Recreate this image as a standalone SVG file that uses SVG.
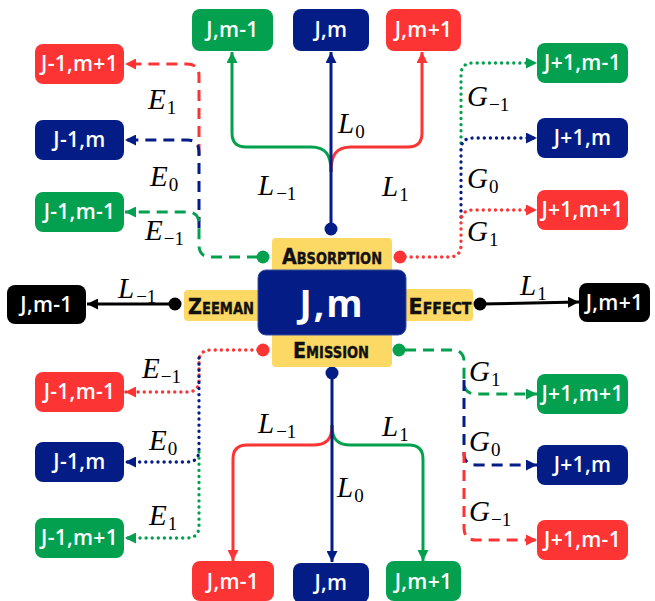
<svg xmlns="http://www.w3.org/2000/svg" width="655" height="601" viewBox="0 0 655 601">
<style>
.n{font-family:"Open Sans","Noto Sans",sans-serif;font-weight:600;font-size:21px;fill:#fff;text-anchor:middle;letter-spacing:0.3px}
.g{fill:#03a14f}.b{fill:#041c85}.r{fill:#fd3434}.k{fill:#000}.y{fill:#fcd864}
.lab{font-family:"DejaVu Sans","Liberation Sans",sans-serif;font-weight:bold;font-size:22px;font-variant:small-caps;fill:#111;stroke:#111;stroke-width:0.4px;text-anchor:middle}
.m{font-family:"Liberation Serif","DejaVu Serif",serif;font-style:italic;font-size:29px;fill:#000}
.s{font-family:"Liberation Serif","DejaVu Serif",serif;font-style:normal;font-size:19px}
.ln{fill:none;stroke-width:3}
.dash{stroke-dasharray:11 7}
.dot{stroke-dasharray:0.1 6;stroke-linecap:round;stroke-width:3.3}
.sg{stroke:#03a14f}.sb{stroke:#041c85}.sr{stroke:#fd3434}.sk{stroke:#000}
</style>
<defs>
<marker id="ag" viewBox="0 0 10 10" refX="10" refY="5" markerWidth="11" markerHeight="11" markerUnits="userSpaceOnUse" orient="auto"><path d="M0,0 L10,5 L0,10 z" fill="#03a14f"/></marker>
<marker id="ab" viewBox="0 0 10 10" refX="10" refY="5" markerWidth="11" markerHeight="11" markerUnits="userSpaceOnUse" orient="auto"><path d="M0,0 L10,5 L0,10 z" fill="#041c85"/></marker>
<marker id="ar" viewBox="0 0 10 10" refX="10" refY="5" markerWidth="11" markerHeight="11" markerUnits="userSpaceOnUse" orient="auto"><path d="M0,0 L10,5 L0,10 z" fill="#fd3434"/></marker>
<marker id="ak" viewBox="0 0 10 10" refX="10" refY="5" markerWidth="11" markerHeight="11" markerUnits="userSpaceOnUse" orient="auto"><path d="M0,0 L10,5 L0,10 z" fill="#000"/></marker>
</defs>

<g id="connectors">
  <path class="ln sg" d="M331,172 C331,155 326,147 311,147 H246 Q232,147 232,133 V52" marker-end="url(#ag)"/>
  <path class="ln sr" d="M331,172 C331,155 336,147 351,147 H408 Q422,147 422,133 V52" marker-end="url(#ar)"/>
  <path class="ln sb" d="M331,229 V52" marker-end="url(#ab)"/>
  <path class="ln sr" d="M332,425 C332,439 327,445 313,445 H247 Q233,445 233,459 V561" marker-end="url(#ar)"/>
  <path class="ln sg" d="M332,425 C332,439 337,445 351,445 H409 Q423,445 423,459 V561" marker-end="url(#ag)"/>
  <path class="ln sb" d="M332,373 V562" marker-end="url(#ab)"/>
  <path class="ln sk" d="M175,304 H87" marker-end="url(#ak)"/>
  <path class="ln sk" d="M480,304 L579,302" marker-end="url(#ak)"/>
  <path class="ln dash sr" d="M199,155 V76 Q199,64 187,64 H125" marker-end="url(#ar)"/>
  <path class="ln dash sb" d="M199,228 V152 Q199,140 187,140 H125" marker-end="url(#ab)"/>
  <path class="ln dash sg" d="M258,257 H211 Q199,257 199,245 V224 Q199,212 187,212 H125" marker-end="url(#ag)"/>
  <path class="ln dot sg" d="M461,143 V75 Q461,63 473,63 H537" marker-end="url(#ag)"/>
  <path class="ln dot sb" d="M461,217 V150 Q461,138 473,138 H537" marker-end="url(#ab)"/>
  <path class="ln dot sr" d="M405,257 H449 Q461,257 461,245 V222 Q461,210 473,210 H537" marker-end="url(#ar)"/>
  <path class="ln dot sr" d="M258,350 H211 Q199,350 199,362 V380 Q199,392 187,392 H125" marker-end="url(#ar)"/>
  <path class="ln dot sb" d="M199,358 V450 Q199,462 187,462 H125" marker-end="url(#ab)"/>
  <path class="ln dot sg" d="M199,452 V526 Q199,538 187,538 H125" marker-end="url(#ag)"/>
  <path class="ln dash sg" d="M405,350 H452 Q464,350 464,362 V382 Q464,394 476,394 H537" marker-end="url(#ag)"/>
  <path class="ln dash sb" d="M464,380 V453 Q464,465 476,465 H537" marker-end="url(#ab)"/>
  <path class="ln dash sr" d="M464,452 V528 Q464,540 476,540 H537" marker-end="url(#ar)"/>
  <circle cx="331" cy="229" r="6.5" class="b"/>
  <circle cx="263" cy="257" r="6.5" class="g"/>
  <circle cx="400" cy="257" r="6.5" class="r"/>
  <circle cx="263" cy="350" r="6.5" class="r"/>
  <circle cx="399" cy="350" r="6.5" class="g"/>
  <circle cx="332" cy="373" r="6.5" class="b"/>
  <circle cx="175" cy="304" r="6.5" class="k"/>
  <circle cx="480" cy="304" r="6.5" class="k"/>
  <text class="m" x="338" y="133">L<tspan class="s" dx="1" dy="5">0</tspan></text>
  <text class="m" x="258" y="195">L<tspan class="s" dx="2" dy="5">−1</tspan></text>
  <text class="m" x="382" y="196">L<tspan class="s" dx="1" dy="5">1</tspan></text>
  <text class="m" x="258" y="433">L<tspan class="s" dx="2" dy="5">−1</tspan></text>
  <text class="m" x="382" y="436">L<tspan class="s" dx="1" dy="5">1</tspan></text>
  <text class="m" x="337" y="497">L<tspan class="s" dx="1" dy="5">0</tspan></text>
  <text class="m" x="118" y="298">L<tspan class="s" dx="2" dy="5">−1</tspan></text>
  <text class="m" x="520" y="295">L<tspan class="s" dx="1" dy="5">1</tspan></text>
  <text class="m" x="148" y="109">E<tspan class="s" dx="1" dy="5">1</tspan></text>
  <text class="m" x="150" y="186">E<tspan class="s" dx="1" dy="5">0</tspan></text>
  <text class="m" x="145" y="240">E<tspan class="s" dx="1" dy="5">−1</tspan></text>
  <text class="m" x="142" y="378">E<tspan class="s" dx="1" dy="5">−1</tspan></text>
  <text class="m" x="149" y="450">E<tspan class="s" dx="1" dy="5">0</tspan></text>
  <text class="m" x="149" y="525">E<tspan class="s" dx="1" dy="5">1</tspan></text>
  <text class="m" x="467" y="106">G<tspan class="s" dx="1" dy="5">−1</tspan></text>
  <text class="m" x="467" y="188">G<tspan class="s" dx="1" dy="5">0</tspan></text>
  <text class="m" x="467" y="241">G<tspan class="s" dx="1" dy="5">1</tspan></text>
  <text class="m" x="469" y="381">G<tspan class="s" dx="1" dy="5">1</tspan></text>
  <text class="m" x="469" y="451">G<tspan class="s" dx="1" dy="5">0</tspan></text>
  <text class="m" x="469" y="521">G<tspan class="s" dx="1" dy="5">−1</tspan></text>
</g>

<g id="absorption"><rect x="272" y="238" width="120" height="36" rx="4" class="y"/><text class="lab" x="332" y="264" textLength="100" lengthAdjust="spacingAndGlyphs">Absorption</text></g>
<g id="emission"><rect x="272" y="331" width="120" height="36" rx="4" class="y"/><text class="lab" x="331" y="358" textLength="76" lengthAdjust="spacingAndGlyphs">Emission</text></g>
<g id="zeeman"><rect x="184" y="290" width="80" height="31" rx="4" class="y"/><text class="lab" x="221" y="314" textLength="66" lengthAdjust="spacingAndGlyphs">Zeeman</text></g>
<g id="effect"><rect x="400" y="289" width="73" height="32" rx="4" class="y"/><text class="lab" x="440" y="314" textLength="63" lengthAdjust="spacingAndGlyphs">Effect</text></g>
<g id="center"><rect x="258" y="270" width="148" height="65" rx="8" class="b" stroke="#3a4fa0" stroke-width="1"/><text x="332" y="317" font-family="'Open Sans','Noto Sans',sans-serif" font-weight="bold" font-size="37" fill="#fff" text-anchor="middle" letter-spacing="2">J,m</text></g>

<g id="top-jm-1"><rect x="192" y="9" width="81" height="42" rx="8" class="g"/><text class="n" x="232.5" y="37">J,m-1</text></g>
<g id="top-jm"><rect x="293" y="9" width="76" height="42" rx="8" class="b"/><text class="n" x="331" y="37">J,m</text></g>
<g id="top-jm+1"><rect x="386" y="9" width="75" height="42" rx="8" class="r"/><text class="n" x="423.5" y="37">J,m+1</text></g>

<g id="bot-jm-1"><rect x="192" y="561" width="82" height="40" rx="8" class="r"/><text class="n" x="233" y="589">J,m-1</text></g>
<g id="bot-jm"><rect x="293" y="563" width="76" height="40" rx="8" class="b"/><text class="n" x="331" y="590">J,m</text></g>
<g id="bot-jm+1"><rect x="386" y="561" width="75" height="40" rx="8" class="g"/><text class="n" x="423.5" y="589">J,m+1</text></g>

<g id="zee-jm-1"><rect x="7" y="285" width="79" height="39" rx="8" class="k"/><text class="n" x="46.5" y="312">J,m-1</text></g>
<g id="zee-jm+1"><rect x="579" y="283" width="71" height="39" rx="8" class="k"/><text class="n" x="614.5" y="310">J,m+1</text></g>

<g id="tl-1"><rect x="35" y="44" width="89" height="40" rx="8" class="r"/><text class="n" x="79.5" y="71">J-1,m+1</text></g>
<g id="tl-2"><rect x="35" y="120" width="89" height="40" rx="8" class="b"/><text class="n" x="79.5" y="147">J-1,m</text></g>
<g id="tl-3"><rect x="35" y="192" width="89" height="40" rx="8" class="g"/><text class="n" x="79.5" y="219">J-1,m-1</text></g>

<g id="bl-1"><rect x="35" y="372" width="89" height="40" rx="8" class="r"/><text class="n" x="79.5" y="399">J-1,m-1</text></g>
<g id="bl-2"><rect x="35" y="442" width="89" height="40" rx="8" class="b"/><text class="n" x="79.5" y="469">J-1,m</text></g>
<g id="bl-3"><rect x="35" y="518" width="89" height="40" rx="8" class="g"/><text class="n" x="79.5" y="545">J-1,m+1</text></g>

<g id="tr-1"><rect x="537" y="43" width="91" height="40" rx="8" class="g"/><text class="n" x="582.5" y="70">J+1,m-1</text></g>
<g id="tr-2"><rect x="537" y="118" width="91" height="40" rx="8" class="b"/><text class="n" x="582.5" y="145">J+1,m</text></g>
<g id="tr-3"><rect x="537" y="190" width="91" height="40" rx="8" class="r"/><text class="n" x="582.5" y="217">J+1,m+1</text></g>

<g id="br-1"><rect x="537" y="374" width="91" height="40" rx="8" class="g"/><text class="n" x="582.5" y="401">J+1,m+1</text></g>
<g id="br-2"><rect x="537" y="445" width="91" height="40" rx="8" class="b"/><text class="n" x="582.5" y="472">J+1,m</text></g>
<g id="br-3"><rect x="537" y="520" width="91" height="40" rx="8" class="r"/><text class="n" x="582.5" y="547">J+1,m-1</text></g>
</svg>
